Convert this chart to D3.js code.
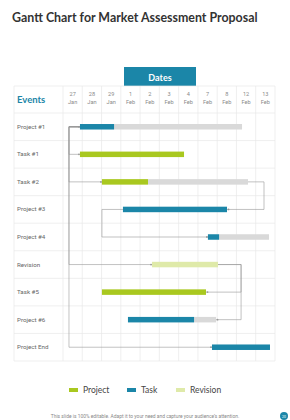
<!DOCTYPE html>
<html>
<head>
<meta charset="utf-8">
<script src="https://cdn.jsdelivr.net/npm/d3@7"></script>
<style>
  body { margin: 0; background: #fff; }
  svg { display: block; }
</style>
</head>
<body>
<svg></svg>
<script>
const WIDTH = 290;
const HEIGHT = 420;

const dayLabels = ['27', '28', '29', '1', '2', '3', '4', '7', '8', '12', '13'];
const monthLabels = ['Jan', 'Jan', 'Jan', 'Feb', 'Feb', 'Feb', 'Feb', 'Feb', 'Feb', 'Feb', 'Feb'];

const events = ['Project #1', 'Task #1', 'Task #2', 'Project #3', 'Project #4',
  'Revision', 'Task #5', 'Project #6', 'Project End'];
// bar positions in date-column units
const barStart = [0.88, 0.88, 2.02, 3.11, 7.52, 4.62, 2.02, 3.37, 7.73];
const barDone = [2.65, 6.28, 4.41, 8.51, 8.1, 8.04, 7.42, 6.8, 10.74];
const barEnd = [9.29, 6.28, 9.6, 8.51, 10.69, 8.04, 7.42, 7.94, 10.74];
const barKind = ['task', 'project', 'project', 'task', 'task', 'revision', 'project', 'task', 'task'];

// connectors: [from row, from side, to row, to side, elbow (column units)]
const links = [
  [0, 'start', 0, 'start', 0.31],
  [0, 'start', 1, 'start', 0.31],
  [0, 'start', 2, 'start', 0.31],
  [0, 'start', 5, 'start', 0.31],
  [0, 'start', 8, 'start', 0.31],
  [2, 'end', 3, 'end', 10.43],
  [3, 'start', 4, 'start', 2.02],
  [5, 'end', 6, 'end', 9.24],
  [5, 'end', 7, 'end', 9.24],
];

const legendKeys = ['project', 'task', 'revision'];
const legendNames = ['Project', 'Task', 'Revision'];

const colors = {
  project: '#a9c81f',
  task: '#1b86a8',
  revision: '#dfeaa9',
  rest: '#d9d9d9',
};

const svg = d3.select('svg')
    .attr('width', WIDTH)
    .attr('height', HEIGHT);

svg.append('text')
    .attr('x', 12)
    .attr('y', 22)
    .attr('fill', '#333')
    .style('font-family', 'Lato, "Noto Sans", sans-serif')
    .style('font-weight', 'bold')
    .style('font-size', '12.4px')
    .text('Gantt Chart for Market Assessment Proposal');

const tableLeft = 14;
const chartLeft = 63;
const chartRight = 275;
const headTop = 86;
const rowsTop = 113;
const rowsBottom = 361;

const x = d3.scaleLinear().domain([0, dayLabels.length]).range([chartLeft, chartRight]);
const col = d3.scaleBand().domain(d3.range(dayLabels.length)).range([chartLeft, chartRight]);
const row = d3.scaleBand().domain(d3.range(events.length)).range([rowsTop, rowsBottom]);
const rowMid = (i) => row(i) + row.bandwidth() / 2;

// dates box
svg.append('rect')
    .attr('x', 124).attr('y', 67)
    .attr('width', 72).attr('height', 19)
    .attr('fill', colors.task);
svg.append('text')
    .attr('x', 160).attr('y', 80.5)
    .attr('text-anchor', 'middle')
    .attr('fill', '#fff')
    .style('font-family', 'Lato, sans-serif')
    .style('font-weight', 'bold')
    .style('font-size', '9px')
    .text('Dates');

// grid
const grid = svg.append('g').attr('stroke', '#e8e8e8').attr('stroke-width', 0.7);
const hLines = [headTop].concat(d3.range(events.length).map((i) => row(i)), [rowsBottom]);
grid.selectAll('line.h')
  .data(hLines)
  .join('line')
    .attr('class', 'h')
    .attr('x1', tableLeft).attr('x2', chartRight)
    .attr('y1', (d) => d).attr('y2', (d) => d);
const vLines = [tableLeft].concat(d3.range(dayLabels.length + 1).map((i) => x(i)));
grid.selectAll('line.v')
  .data(vLines)
  .join('line')
    .attr('class', 'v')
    .attr('x1', (d) => d).attr('x2', (d) => d)
    .attr('y1', headTop).attr('y2', rowsBottom);

// header
svg.append('text')
    .attr('x', 17).attr('y', 103)
    .attr('fill', colors.task)
    .style('font-family', 'Lato, sans-serif')
    .style('font-weight', 'bold')
    .style('font-size', '9.5px')
    .text('Events');

const head = svg.append('g')
    .style('font-family', 'Roboto, sans-serif')
    .style('font-size', '5.6px')
    .attr('text-anchor', 'middle');
head.selectAll('text.day')
  .data(dayLabels)
  .join('text')
    .attr('class', 'day')
    .attr('fill', '#8a8a8a')
    .attr('x', (d, i) => col(i) + col.bandwidth() / 2)
    .attr('y', 96)
    .text((d) => d);
head.selectAll('text.month')
  .data(monthLabels)
  .join('text')
    .attr('class', 'month')
    .attr('fill', '#8a8a8a')
    .attr('x', (d, i) => col(i) + col.bandwidth() / 2)
    .attr('y', 104)
    .text((d) => d);

// row labels
svg.append('g')
    .style('font-family', 'Roboto, sans-serif')
    .style('font-size', '6.2px')
  .selectAll('text')
  .data(events)
  .join('text')
    .attr('fill', '#666')
    .attr('x', 17)
    .attr('y', (d, i) => rowMid(i) + 2)
    .text((d) => d);

// connectors
const side = (i, s) => (s === 'start' ? x(barStart[i]) : x(barEnd[i]));
const conn = svg.append('g');
conn.selectAll('path')
  .data(links)
  .join('path')
    .attr('fill', 'none')
    .attr('stroke', '#999')
    .attr('stroke-width', 0.6)
    .attr('d', (d) => {
      const p = d3.path();
      const e = x(d[4]);
      p.moveTo(side(d[0], d[1]), rowMid(d[0]));
      p.lineTo(e, rowMid(d[0]));
      p.lineTo(e, rowMid(d[2]));
      p.lineTo(side(d[2], d[3]), rowMid(d[2]));
      return p.toString();
    });
conn.selectAll('circle')
  .data(links)
  .join('circle')
    .attr('cx', (d) => side(d[2], d[3]) + (d[3] === 'start' ? -1 : 1.5))
    .attr('cy', (d) => rowMid(d[2]))
    .attr('r', 0.9)
    .attr('fill', '#999');

// bars
const BAR_H = 5.5;
const bars = svg.append('g');
bars.selectAll('rect.rest')
  .data(events)
  .join('rect')
    .attr('class', 'rest')
    .attr('x', (d, i) => x(barDone[i]))
    .attr('y', (d, i) => rowMid(i) - BAR_H / 2)
    .attr('width', (d, i) => x(barEnd[i]) - x(barDone[i]))
    .attr('height', BAR_H)
    .attr('fill', colors.rest);
bars.selectAll('rect.done')
  .data(events)
  .join('rect')
    .attr('class', 'done')
    .attr('x', (d, i) => x(barStart[i]))
    .attr('y', (d, i) => rowMid(i) - BAR_H / 2)
    .attr('width', (d, i) => x(barDone[i]) - x(barStart[i]))
    .attr('height', BAR_H)
    .attr('fill', (d, i) => colors[barKind[i]]);

// legend
const legendX = [69, 127, 176];
const legend = svg.append('g')
  .selectAll('g')
  .data(legendKeys)
  .join('g')
    .attr('transform', (d, i) => `translate(${legendX[i]}, 390)`);
legend.append('rect')
    .attr('x', 0).attr('y', -2)
    .attr('width', 9).attr('height', 4)
    .attr('fill', (d) => colors[d]);
legend.append('text')
    .attr('x', 14).attr('y', 3)
    .attr('fill', '#444')
    .style('font-family', 'Lato, sans-serif')
    .style('font-size', '8.5px')
    .text((d, i) => legendNames[i]);

// footer
svg.append('text')
    .attr('x', 145).attr('y', 418)
    .attr('text-anchor', 'middle')
    .attr('fill', '#888')
    .style('font-family', 'Roboto, sans-serif')
    .style('font-size', '4.9px')
    .text('This slide is 100% editable. Adapt it to your need and capture your audience\u2019s attention.');
svg.append('circle')
    .attr('cx', 284).attr('cy', 416)
    .attr('r', 4)
    .attr('fill', colors.task);
svg.append('text')
    .attr('x', 284).attr('y', 417.5)
    .attr('text-anchor', 'middle')
    .attr('fill', '#fff')
    .style('font-family', 'Roboto, sans-serif')
    .style('font-size', '3.5px')
    .text('20');
</script>
</body>
</html>
